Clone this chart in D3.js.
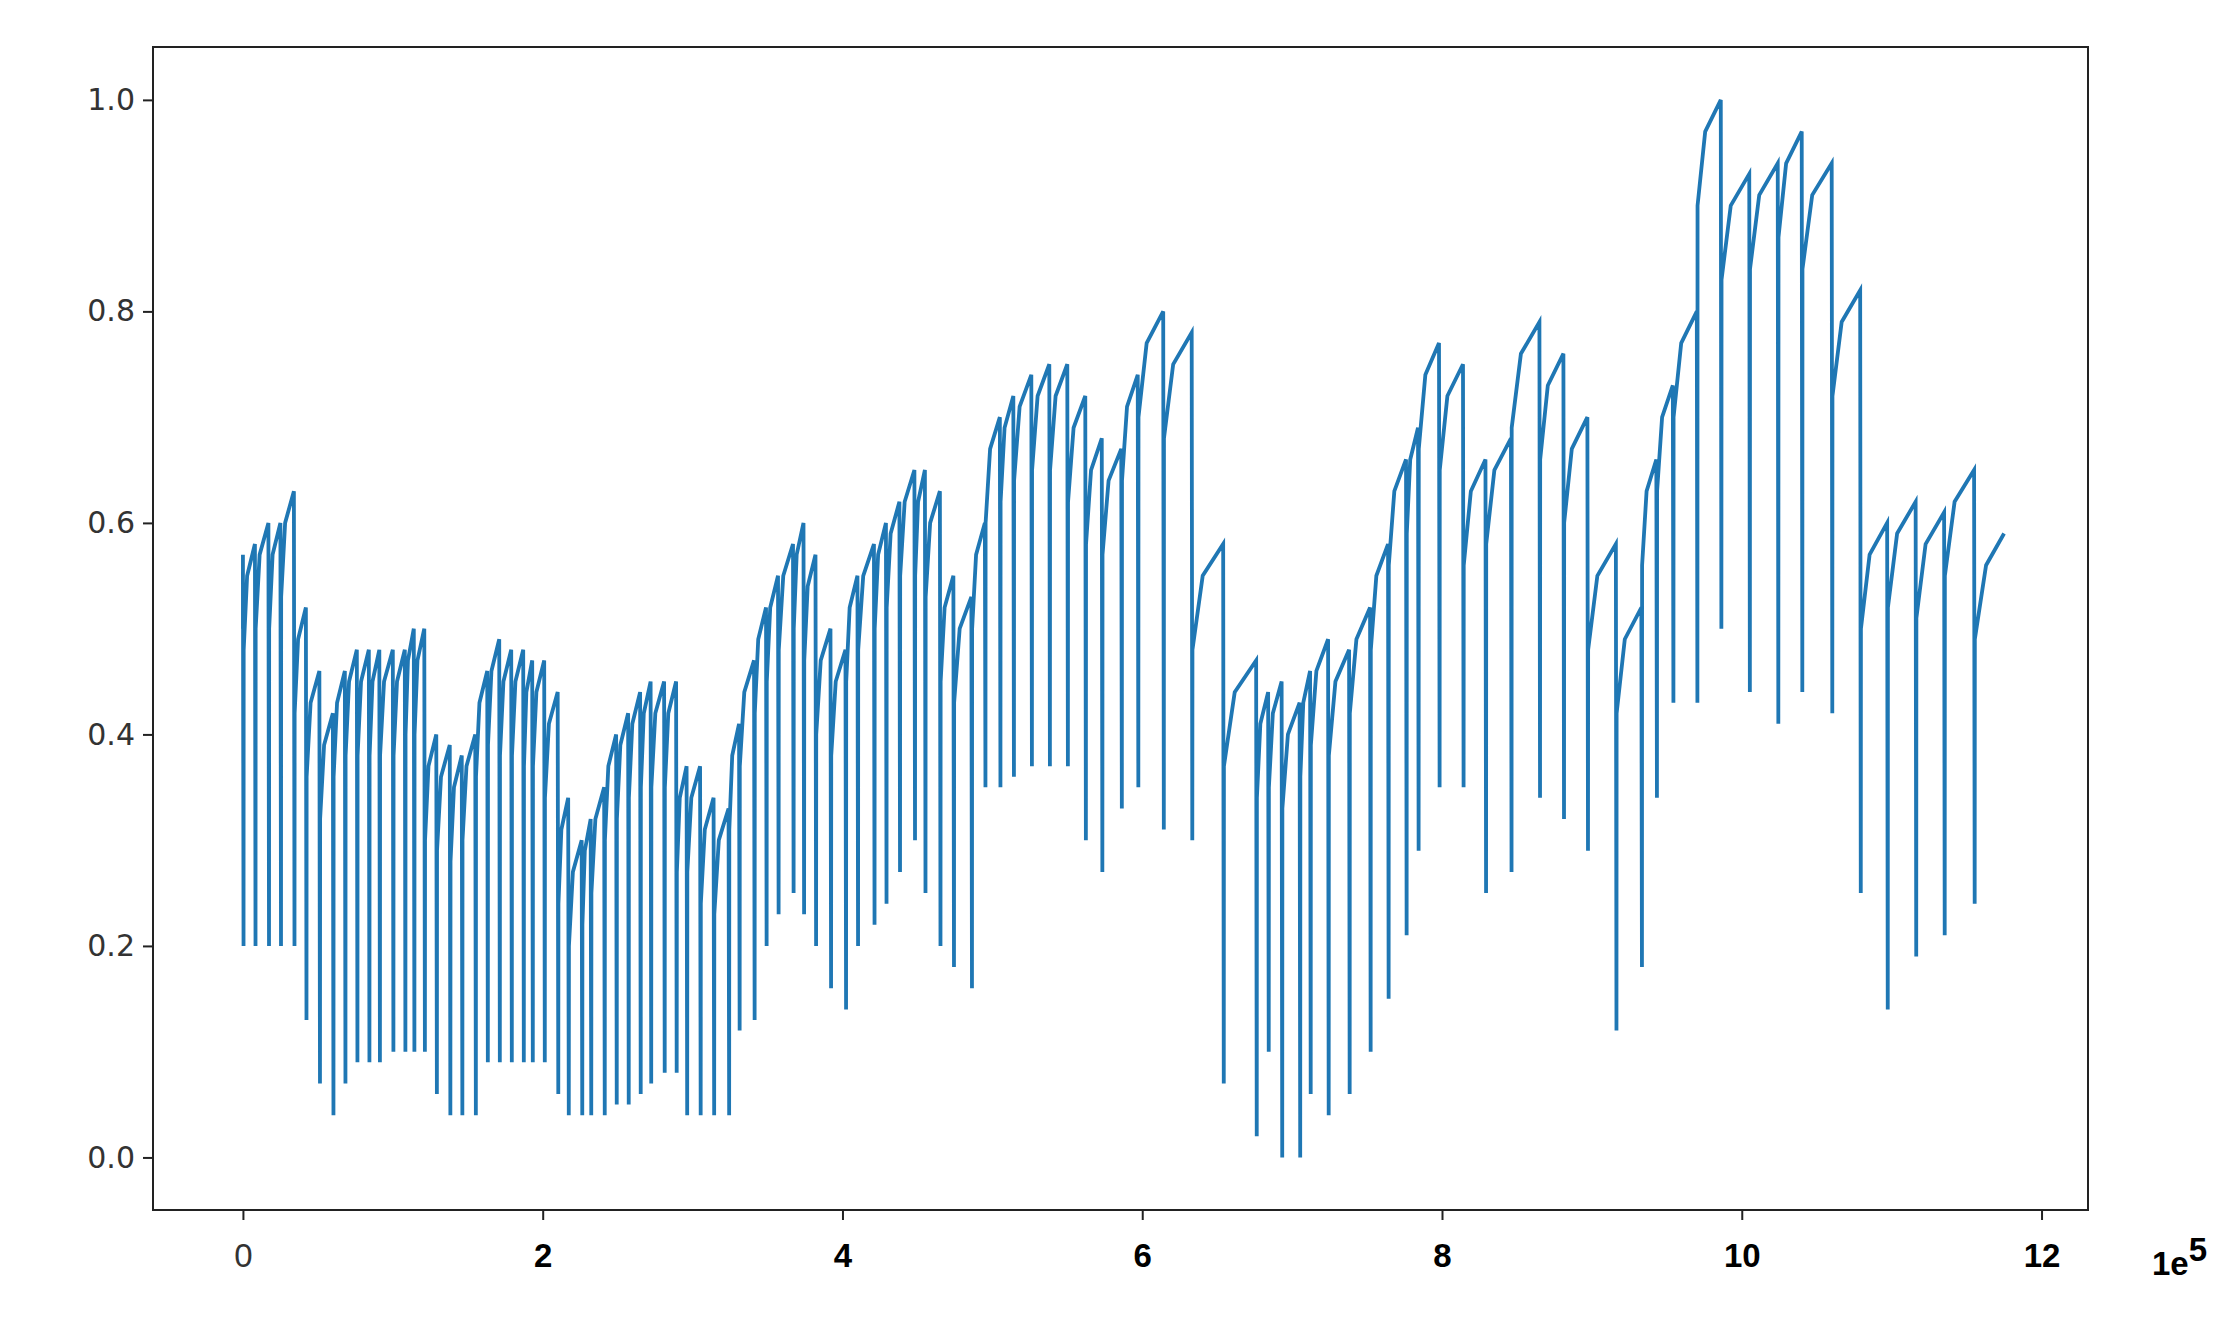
<!DOCTYPE html>
<html><head><meta charset="utf-8">
<script src="https://cdn.jsdelivr.net/npm/d3@7"></script>
<style>body{margin:0;background:#fff}</style></head>
<body><svg id="c" width="2238" height="1328"></svg>
<script>
// drop positions (x in units of 1e5), peak before drop, trough after drop
const dropX = [0,.08,.17,.25,.34,.42,.51,.6,.68,.76,.84,.91,1.0,1.08,1.14,1.21,1.29,1.38,1.46,1.55,1.63,1.71,1.79,1.87,1.93,2.01,2.1,2.17,2.26,2.32,2.41,2.49,2.57,2.65,2.72,2.81,2.89,2.96,3.05,3.14,3.24,3.31,3.41,3.49,3.57,3.67,3.74,3.82,3.92,4.02,4.1,4.21,4.29,4.38,4.48,4.55,4.65,4.74,4.86,4.95,5.05,5.14,5.26,5.38,5.5,5.62,5.73,5.86,5.97,6.14,6.33,6.54,6.76,6.84,6.93,7.05,7.12,7.24,7.38,7.52,7.64,7.76,7.84,7.98,8.14,8.29,8.46,8.65,8.81,8.97,9.16,9.33,9.43,9.54,9.7,9.86,10.05,10.24,10.4,10.6,10.79,10.97,11.16,11.35,11.55];
const peakY = [.57,.58,.6,.6,.63,.52,.46,.42,.46,.48,.48,.48,.48,.48,.5,.5,.4,.39,.38,.4,.46,.49,.48,.48,.47,.47,.44,.34,.3,.32,.35,.4,.42,.44,.45,.45,.45,.37,.37,.34,.33,.41,.47,.52,.55,.58,.6,.57,.5,.48,.55,.58,.6,.62,.65,.65,.63,.55,.53,.6,.7,.72,.74,.75,.75,.72,.68,.67,.74,.8,.78,.58,.47,.44,.45,.43,.46,.49,.48,.52,.58,.66,.69,.77,.75,.66,.68,.79,.76,.7,.58,.52,.66,.73,.8,1.0,.93,.94,.97,.94,.82,.6,.62,.61,.65];
const troughY = [.2,.2,.2,.2,.2,.13,.07,.04,.07,.09,.09,.09,.1,.1,.1,.1,.06,.04,.04,.04,.09,.09,.09,.09,.09,.09,.06,.04,.04,.04,.04,.05,.05,.06,.07,.08,.08,.04,.04,.04,.04,.12,.13,.2,.23,.25,.23,.2,.16,.14,.2,.22,.24,.27,.3,.25,.2,.18,.16,.35,.35,.36,.37,.37,.37,.3,.27,.33,.35,.31,.3,.07,.02,.1,0,0,.06,.04,.06,.1,.15,.21,.29,.35,.35,.25,.27,.34,.32,.29,.12,.18,.34,.43,.43,.5,.44,.41,.44,.42,.25,.14,.19,.21,.24];
const startPoint = [0, 0.5];
const endPoint = [11.75, 0.59];
const xTicks = [0,2,4,6,8,10,12];
const yTicks = [0,0.2,0.4,0.6,0.8,1.0];

const L=153,T=47,R=2088,B=1210;
const x=d3.scaleLinear().domain([-0.6,12.31]).range([L,R]);
const y=d3.scaleLinear().domain([-0.0497,1.05]).range([B,T]);
const svg=d3.select('#c');

const pts=[startPoint];
for(let i=0;i<dropX.length;i++){
  if(i>0){
    const a=dropX[i-1], b=dropX[i];
    pts.push([a+0.005, peakY[i]-0.1]);
    pts.push([a+0.35*(b-a), peakY[i]-0.03]);
  }
  pts.push([dropX[i], peakY[i]]);
  pts.push([dropX[i]+0.004, troughY[i]]);
}
pts.push([dropX[dropX.length-1]+0.005, endPoint[1]-0.1]);
pts.push([dropX[dropX.length-1]+0.08, endPoint[1]-0.03]);
pts.push(endPoint);

svg.append('path').datum(pts)
 .attr('d',d3.line().x(d=>x(d[0])).y(d=>y(d[1])))
 .attr('fill','none').attr('stroke','#1f77b4').attr('stroke-width',3.8);

svg.append('rect').attr('x',L).attr('y',T).attr('width',R-L).attr('height',B-T)
 .attr('fill','none').attr('stroke','#222').attr('stroke-width',2);

const ya=svg.append('g').attr('transform',`translate(${L},0)`)
 .call(d3.axisLeft(y).tickValues(yTicks).tickFormat(d3.format('.1f')).tickSize(10).tickPadding(8));
ya.select('.domain').remove();
ya.selectAll('text').attr('font-family','DejaVu Sans').attr('font-size',30).attr('fill','#333');
ya.selectAll('line').attr('stroke','#222').attr('stroke-width',2);

const xa=svg.append('g').attr('transform',`translate(0,${B})`)
 .call(d3.axisBottom(x).tickValues(xTicks).tickFormat(d=>d).tickSize(10).tickPadding(24));
xa.select('.domain').remove();
xa.selectAll('text').attr('font-family','Liberation Sans').attr('font-size',33)
 .attr('font-weight',d=>d===0?'normal':'bold').attr('fill',d=>d===0?'#333':'#000');
xa.selectAll('line').attr('stroke','#222').attr('stroke-width',2);

const t=svg.append('text').attr('x',2152).attr('y',1275).attr('font-family','Liberation Sans')
 .attr('font-size',33).attr('font-weight','bold').text('1e');
t.append('tspan').attr('font-size',33).attr('dy',-14).text('5');
</script></body></html>
